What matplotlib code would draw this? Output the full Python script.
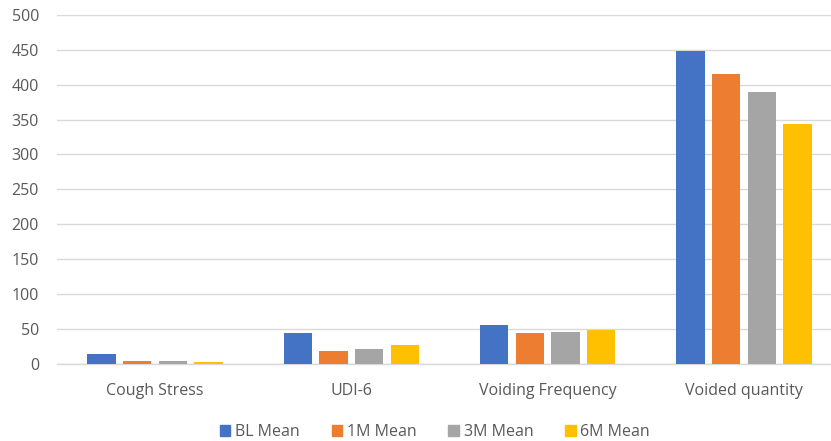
import numpy as np
import matplotlib.pyplot as plt
from matplotlib.patches import Patch

categories = ["Cough Stress", "UDI-6", "Voiding Frequency", "Voided quantity"]
series_names = ["BL Mean", "1M Mean", "3M Mean", "6M Mean"]
bl_mean = [13, 44, 55, 448]
m1_mean = [4, 17.5, 44, 416]
m3_mean = [3.5, 21, 45, 389]
m6_mean = [2.5, 27, 48, 343]
colors = ["#4472C4", "#ED7D31", "#A5A5A5", "#FFC000"]

plt.rcParams['font.family'] = ['Open Sans', 'DejaVu Sans']
txt = "#595959"

fig = plt.figure(figsize=(8.31, 4.41), dpi=100)
# plot area runs a little past the right edge of the figure
ax = fig.add_axes([57 / 831, 1 - 363.5 / 441, 785 / 831, 348.5 / 441])

x = np.arange(len(categories))
width = 0.145
step = 0.182
for i, (vals, c) in enumerate(zip([bl_mean, m1_mean, m3_mean, m6_mean], colors)):
    ax.bar(x + (i - 1.5) * step, vals, width, color=c, zorder=3)

ax.set_xlim(-0.5, len(categories) - 0.5)
ax.set_ylim(0, 500)
ax.set_yticks(range(0, 501, 50))
ax.yaxis.grid(True, color="#D9D9D9", linewidth=1, zorder=0)
ax.set_xticks(x)
ax.set_xticklabels(categories)
ax.tick_params(axis='both', length=0, labelsize=11.5, labelcolor=txt)
ax.tick_params(axis='x', pad=14)
ax.tick_params(axis='y', pad=13)
for s in ["top", "right", "left"]:
    ax.spines[s].set_visible(False)
ax.spines["bottom"].set_color("#D9D9D9")
ax.spines["bottom"].set_linewidth(1)

handles = [Patch(color=c, label=n) for c, n in zip(colors, series_names)]
fig.legend(handles=handles, loc="center", bbox_to_anchor=(435 / 831, 1 - 432 / 441),
           ncol=4, frameon=False, fontsize=11.5, labelcolor=txt,
           handlelength=0.65, handleheight=0.65, handletextpad=0.3, columnspacing=2.0)

fig.savefig("out.png", dpi=100)
